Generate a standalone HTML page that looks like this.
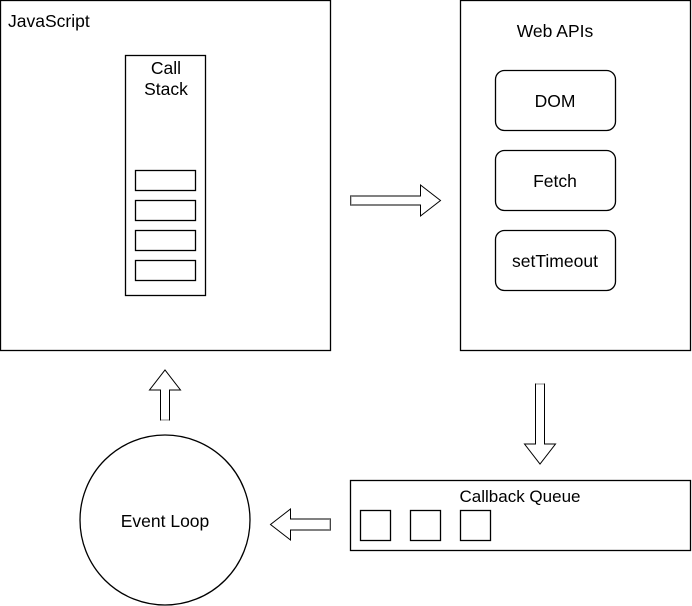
<!DOCTYPE html>
<html><head><style>
html,body{margin:0;padding:0;background:#fff;width:692px;height:606px;overflow:hidden}
svg text{font-family:"Liberation Sans",Helvetica,Arial,sans-serif;font-size:17.5px;fill:#000}
</style></head><body>
<svg width="692" height="606" viewBox="0 0 692 606" xmlns="http://www.w3.org/2000/svg">
<g fill="#fff" stroke="#000" stroke-width="1.3">
<rect x="0.5" y="0.5" width="330" height="350"/>
<rect x="125.5" y="55.5" width="80" height="240"/>
<rect x="135.5" y="170.5" width="60" height="20"/>
<rect x="135.5" y="200.5" width="60" height="20"/>
<rect x="135.5" y="230.5" width="60" height="20"/>
<rect x="135.5" y="260.5" width="60" height="20"/>
<rect x="460.5" y="0.5" width="230" height="350"/>
<rect x="495.5" y="70.5" width="120" height="60" rx="9"/>
<rect x="495.5" y="150.5" width="120" height="60" rx="9"/>
<rect x="495.5" y="230.5" width="120" height="60" rx="9"/>
<rect x="350.5" y="480.5" width="340" height="70"/>
<rect x="360.5" y="510.5" width="30" height="30"/>
<rect x="410.5" y="510.5" width="30" height="30"/>
<rect x="460.5" y="510.5" width="30" height="30"/>
<circle cx="165" cy="520" r="85"/>
</g>
<g fill="#fff" stroke="#000" stroke-width="1">
<polygon points="350.5,196 420.5,196 420.5,185 440.5,200.5 420.5,216 420.5,205 350.5,205"/>
<polygon points="535.5,384 544.5,384 544.5,444 555.5,444 540,464 524.5,444 535.5,444"/>
<polygon points="330.5,519 290.5,519 290.5,509 270.5,524.5 290.5,540 290.5,530 330.5,530"/>
<polygon points="160.5,420 169.5,420 169.5,390 180.5,390 165,370 149.5,390 160.5,390"/>
</g>
<g stroke="#888" stroke-width="1">
<line x1="351" y1="196" x2="351" y2="205"/>
<line x1="536" y1="384" x2="544" y2="384"/>
<line x1="330" y1="519" x2="330" y2="530"/>
<line x1="161" y1="420" x2="169" y2="420"/>
</g>
<text x="8" y="27">JavaScript</text>
<text x="166" y="74" text-anchor="middle">Call</text>
<text x="166" y="95" text-anchor="middle">Stack</text>
<text x="555" y="37" text-anchor="middle">Web APIs</text>
<text x="555" y="107" text-anchor="middle">DOM</text>
<text x="555" y="187" text-anchor="middle">Fetch</text>
<text x="555" y="267" text-anchor="middle">setTimeout</text>
<text x="520" y="502" text-anchor="middle" style="font-size:17px">Callback Queue</text>
<text x="165" y="527" text-anchor="middle">Event Loop</text>
</svg>
</body></html>
